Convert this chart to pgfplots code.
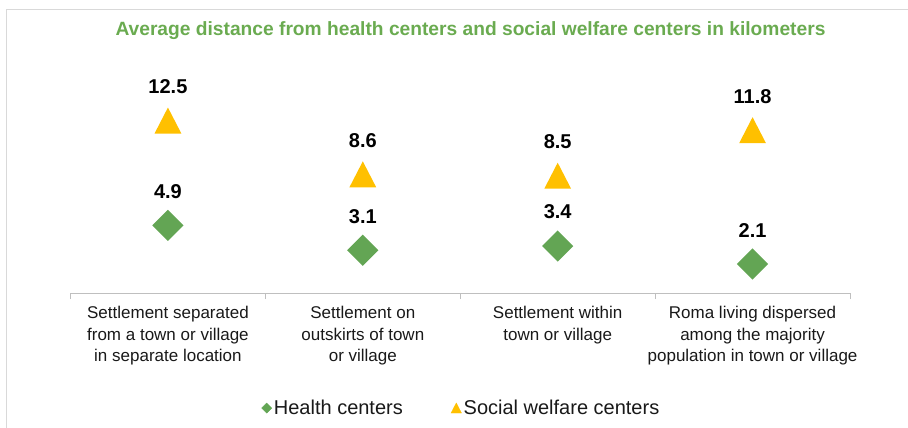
\documentclass[border=0pt]{standalone}
\usepackage{pgfplots}
\pgfplotsset{compat=1.18}
\usepackage{fontspec}
\setmainfont{Liberation Sans}
\definecolor{hgreen}{HTML}{63A554}
\definecolor{tgreen}{HTML}{6AAB50}
\definecolor{sgold}{HTML}{FFC000}
\definecolor{axgray}{HTML}{BFBFBF}
\definecolor{bordergray}{HTML}{D9D9D9}
\pgfdeclareplotmark{xtri}{%
 \pgfpathmoveto{\pgfqpoint{0pt}{13pt}}%
 \pgfpathlineto{\pgfqpoint{13.4pt}{-13pt}}%
 \pgfpathlineto{\pgfqpoint{-13.4pt}{-13pt}}%
 \pgfpathclose\pgfusepathqfill}
\pgfdeclareplotmark{xdia}{%
 \pgfpathmoveto{\pgfqpoint{0pt}{15.6pt}}%
 \pgfpathlineto{\pgfqpoint{15.6pt}{0pt}}%
 \pgfpathlineto{\pgfqpoint{0pt}{-15.6pt}}%
 \pgfpathlineto{\pgfqpoint{-15.6pt}{0pt}}%
 \pgfpathclose\pgfusepathqfill}
\begin{document}
\begin{tikzpicture}
\useasboundingbox (0pt,0pt) rectangle (908pt,-428pt);
\draw[bordergray, line width=1pt] (6pt,-428pt) -- (6pt,-10pt) -- (908pt,-10pt);
\node[font=\fontsize{19.2}{22}\selectfont\bfseries, text=tgreen] at (470.5pt,-31pt) {Average distance from health centers and social welfare centers in kilometers};
\begin{axis}[
 at={(70.5pt,-293pt)}, anchor=south west,
 scale only axis, width=779.5pt, height=220.8pt,
 xmin=-0.5, xmax=3.5, ymin=0, ymax=16,
 axis y line=none, axis x line=bottom,
 axis line style={-, draw=axgray, line width=0.9pt},
 xtick={0,1,2,3},
 xticklabels={{Settlement separated\\from a town or village\\in separate location},
  {Settlement on\\outskirts of town\\or village},
  {Settlement within\\town or village},
  {Roma living dispersed\\among the majority\\population in town or village}},
 major tick length=0pt,
 minor xtick={-0.5,0.5,1.5,2.5,3.5}, minor tick length=6pt, xtick align=outside,
 minor tick style={draw=axgray, line width=0.9pt},
 x tick label style={align=center, font=\fontsize{17}{21.5}\selectfont, yshift=-10pt, text=black!90},
 clip=false,
 point meta=explicit symbolic,
 nodes near coords,
 nodes near coords align=center,
 every node near coord/.append style={font=\fontsize{20}{20}\selectfont\bfseries, yshift=34pt, text=black},
 legend style={at={(0.5015,-0.521)}, anchor=center, draw=none, legend columns=2,
   font=\fontsize{20}{22}\selectfont, text=black!90,
   /tikz/every even column/.append style={column sep=46pt}},
]
\addplot[only marks, color=hgreen, mark=xdia, forget plot] coordinates {
 (0,4.9) [4.9] (1,3.1) [3.1] (2,3.4) [3.4] (3,2.1) [2.1]};
\addplot[only marks, color=sgold, mark=xtri, forget plot] coordinates {
 (0,12.5) [12.5] (1,8.6) [8.6] (2,8.5) [8.5] (3,11.8) [11.8]};
\addlegendimage{legend image code/.code={\fill[hgreen] (0pt,5pt)--(5pt,0pt)--(0pt,-5pt)--(-5pt,0pt)--cycle;}}
\addlegendimage{legend image code/.code={\fill[sgold] (0pt,5pt)--(5.2pt,-5pt)--(-5.2pt,-5pt)--cycle;}}
\legend{Health centers, Social welfare centers}
\end{axis}
\end{tikzpicture}
\end{document}
